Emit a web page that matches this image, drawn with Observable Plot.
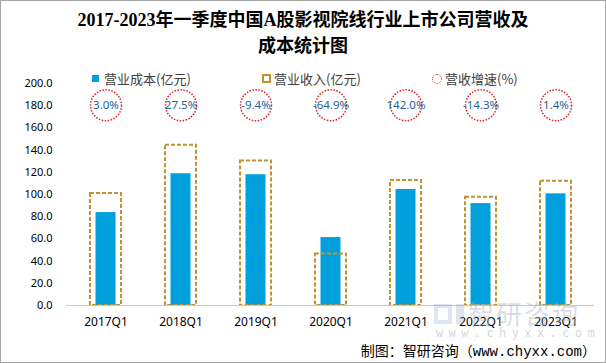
<!DOCTYPE html>
<html><head><meta charset="utf-8">
<script src="https://cdn.jsdelivr.net/npm/d3@7"></script>
<script src="https://cdn.jsdelivr.net/npm/@observablehq/plot@0.6"></script>
<style>
body{margin:0;background:#fff;}
#wrap{position:relative;width:606px;height:363px;background:#fff;overflow:hidden;font-family:"Noto Sans CJK SC","Noto Sans",sans-serif;}
#frame{position:absolute;left:0;top:0;width:606px;height:363px;box-sizing:border-box;border:1px solid #a6a6a6;pointer-events:none;}
#title{position:absolute;left:0;top:7px;width:606px;text-align:center;font-weight:bold;font-size:18px;line-height:26px;font-family:"Liberation Serif","Noto Sans CJK SC",serif;color:#000;}
#chart{position:absolute;left:0;top:62px;}
.leg{position:absolute;font-size:13px;line-height:16px;color:#404040;white-space:nowrap;}
.sw{position:absolute;box-sizing:border-box;}
#wm1{position:absolute;left:468px;top:298px;font-size:26px;letter-spacing:2px;color:rgba(170,180,190,0.45);line-height:30px;}
#wm2{position:absolute;left:436px;top:326px;font-size:12px;letter-spacing:5.4px;color:rgba(170,175,180,0.5);line-height:14px;font-family:"DejaVu Sans Mono",monospace;}
#logo1{position:absolute;left:434px;top:304px;width:18px;height:20px;border:4px solid rgba(150,170,200,0.3);box-sizing:border-box;}
#logo2{position:absolute;left:456px;top:304px;width:8px;height:20px;background:rgba(150,170,200,0.3);}
#foot{position:absolute;right:10px;top:341px;font-size:14px;line-height:18px;color:#000;white-space:nowrap;}
#foot .m{font-family:"Liberation Mono","DejaVu Sans Mono",monospace;font-size:14px;}
</style></head>
<body>
<div id="wrap">
  <div id="title">2017-2023年一季度中国A股影视院线行业上市公司营收及<br>成本统计图</div>
  <div id="chart"></div>
  <div class="sw" style="left:92px;top:75px;width:7px;height:7px;background:#00a0dc;"></div>
  <div class="leg" style="left:104px;top:71px;">营业成本(亿元)</div>
  <div class="sw" style="left:262px;top:74px;width:9px;height:9px;border:2px dashed #bf9430;"></div>
  <div class="leg" style="left:274px;top:71px;">营业收入(亿元)</div>
  <div class="sw" style="left:432px;top:74px;width:10px;height:10px;border:1.5px dotted #e0202a;border-radius:50%;"></div>
  <div class="leg" style="left:445px;top:71px;">营收增速(%)</div>
  <div id="logo1"></div><div id="logo2"></div>
  <div id="wm1">智研咨询</div>
  <div id="wm2">www.chyxx.com</div>
  <div id="foot">制图：智研咨询（<span class="m">www.chyxx.com</span>）</div>
  <div id="frame"></div>
</div>
<script>
const quarters = ["2017Q1","2018Q1","2019Q1","2020Q1","2021Q1","2022Q1","2023Q1"];
const cost = [83.7, 118.7, 117.8, 61.2, 104.5, 91.8, 100.6];
const revenue = [100.9, 144.3, 130.1, 46.4, 112.6, 97.6, 112.0];
const growthLabels = ["3.0%","27.5%","-9.4%","-64.9%","142.0%","-14.3%","1.4%"];
const growthRowLevel = 180.4;
const yTicks = [0,20,40,60,80,100,120,140,160,180,200];

const rows = quarters.map((q,i)=>({q, cost:cost[i], revenue:revenue[i], label:growthLabels[i], level:growthRowLevel}));

const chart = Plot.plot({
  width: 606,
  height: 301,
  marginLeft: 66,
  marginRight: 12,
  marginTop: 21,
  marginBottom: 58,
  style: {fontFamily: "'Noto Sans','Noto Sans CJK SC',sans-serif", background: "transparent"},
  x: {domain: quarters, padding: 0, label: null},
  y: {domain: [0, 200], label: null},
  marks: [
    Plot.barY(rows, {x: "q", y: "cost", fill: "#00a0dc", insetLeft: 27.5, insetRight: 27.5}),
    Plot.barY(rows, {x: "q", y: "revenue", fill: "none", stroke: "#bf9430", strokeWidth: 2, strokeDasharray: "4,2", insetLeft: 22, insetRight: 22}),
    Plot.ruleY([0], {stroke: "#c8c8c8", strokeWidth: 1}),
    Plot.dot(rows, {x: "q", y: "level", r: 15.5, fill: "none", stroke: "#e0202a", strokeWidth: 1.5, strokeDasharray: "1.5,1.5"}),
    Plot.text(rows, {x: "q", y: "level", text: "label", fill: "#1f6396", fontSize: 11.5}),
    Plot.axisY({ticks: yTicks, tickFormat: d => d.toFixed(1), tickSize: 0, tickPadding: 14, fontSize: 11, fill: "#000", label: null}),
    Plot.axisX({tickSize: 0, tickPadding: 12, fontSize: 12, fill: "#000", label: null})
  ]
});
document.getElementById("chart").appendChild(chart);
</script>
</body></html>
